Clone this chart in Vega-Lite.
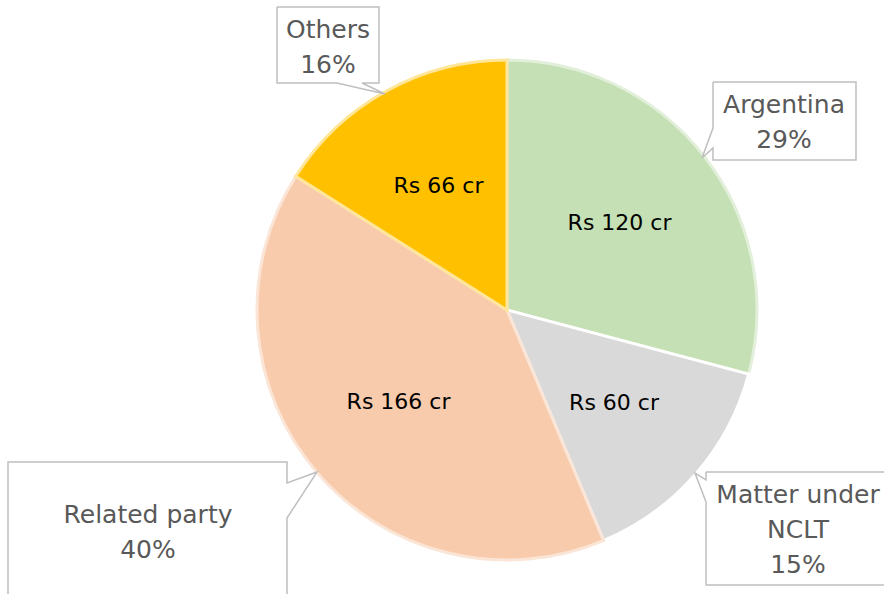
{
  "$schema": "https://vega.github.io/schema/vega-lite/v6.json",
  "width": 884,
  "height": 594,
  "autosize": {"type": "none"},
  "padding": 0,
  "background": "white",
  "config": {"view": {"stroke": null}},
  "datasets": {
    "slices": [
      {"idx": 1, "category": "Argentina", "amount": 120, "label": "Rs 120 cr"},
      {"idx": 2, "category": "Matter under NCLT", "amount": 60, "label": "Rs 60 cr"},
      {"idx": 3, "category": "Related party", "amount": 166, "label": "Rs 166 cr"},
      {"idx": 4, "category": "Others", "amount": 66, "label": "Rs 66 cr"}
    ],
    "callouts": [
      {"callout": "Others", "text": "Others\n16%", "tx": 328, "ty": 30},
      {"callout": "Argentina", "text": "Argentina\n29%", "tx": 784, "ty": 105},
      {"callout": "Matter under NCLT", "text": "Matter under\nNCLT\n15%", "tx": 798, "ty": 495},
      {"callout": "Related party", "text": "Related party\n40%", "tx": 148, "ty": 515}
    ],
    "outlines": [
      {"callout": "Others", "seq": 1, "px": 277, "py": 7},
      {"callout": "Others", "seq": 2, "px": 379, "py": 7},
      {"callout": "Others", "seq": 3, "px": 379, "py": 83},
      {"callout": "Others", "seq": 4, "px": 362, "py": 83},
      {"callout": "Others", "seq": 5, "px": 385, "py": 94},
      {"callout": "Others", "seq": 6, "px": 337, "py": 83},
      {"callout": "Others", "seq": 7, "px": 277, "py": 83},
      {"callout": "Others", "seq": 8, "px": 277, "py": 7},
      {"callout": "Argentina", "seq": 1, "px": 713, "py": 82},
      {"callout": "Argentina", "seq": 2, "px": 856, "py": 82},
      {"callout": "Argentina", "seq": 3, "px": 856, "py": 160},
      {"callout": "Argentina", "seq": 4, "px": 713, "py": 160},
      {"callout": "Argentina", "seq": 5, "px": 713, "py": 148},
      {"callout": "Argentina", "seq": 6, "px": 702, "py": 158},
      {"callout": "Argentina", "seq": 7, "px": 713, "py": 128},
      {"callout": "Argentina", "seq": 8, "px": 713, "py": 82},
      {"callout": "Matter under NCLT", "seq": 1, "px": 706, "py": 472},
      {"callout": "Matter under NCLT", "seq": 2, "px": 890, "py": 472},
      {"callout": "Matter under NCLT", "seq": 3, "px": 890, "py": 585},
      {"callout": "Matter under NCLT", "seq": 4, "px": 706, "py": 585},
      {"callout": "Matter under NCLT", "seq": 5, "px": 706, "py": 502},
      {"callout": "Matter under NCLT", "seq": 6, "px": 695, "py": 473},
      {"callout": "Matter under NCLT", "seq": 7, "px": 706, "py": 480},
      {"callout": "Matter under NCLT", "seq": 8, "px": 706, "py": 472},
      {"callout": "Related party", "seq": 1, "px": 8, "py": 600},
      {"callout": "Related party", "seq": 2, "px": 8, "py": 462},
      {"callout": "Related party", "seq": 3, "px": 287, "py": 462},
      {"callout": "Related party", "seq": 4, "px": 287, "py": 483},
      {"callout": "Related party", "seq": 5, "px": 317, "py": 472},
      {"callout": "Related party", "seq": 6, "px": 287, "py": 518},
      {"callout": "Related party", "seq": 7, "px": 287, "py": 600}
    ]
  },
  "layer": [
    {
      "data": {"name": "slices"},
      "mark": {"type": "arc", "outerRadius": 250, "strokeWidth": 3},
      "encoding": {
        "x": {"datum": 507, "type": "quantitative", "scale": {"domain": [0, 884], "nice": false, "zero": false}, "axis": null},
        "y": {"datum": 310, "type": "quantitative", "scale": {"domain": [0, 594], "nice": false, "zero": false, "reverse": true}, "axis": null},
        "theta": {"field": "amount", "type": "quantitative", "stack": true},
        "order": {"field": "idx", "type": "quantitative"},
        "color": {
          "field": "category", "type": "nominal", "legend": null,
          "scale": {"domain": ["Argentina", "Matter under NCLT", "Related party", "Others"], "range": ["#C5E0B4", "#D9D9D9", "#F8CBAD", "#FFC000"]}
        },
        "stroke": {
          "field": "category", "type": "nominal", "legend": null,
          "scale": {"domain": ["Argentina", "Matter under NCLT", "Related party", "Others"], "range": ["#E2EFDA", "#FFFFFF", "#FBE5D6", "#FFE699"]}
        }
      }
    },
    {
      "data": {"name": "slices"},
      "mark": {"type": "text", "radius": 142, "fontSize": 22, "font": "DejaVu Sans", "color": "#000000"},
      "encoding": {
        "x": {"datum": 507, "type": "quantitative", "scale": {"domain": [0, 884], "nice": false, "zero": false}, "axis": null},
        "y": {"datum": 310, "type": "quantitative", "scale": {"domain": [0, 594], "nice": false, "zero": false, "reverse": true}, "axis": null},
        "theta": {"field": "amount", "type": "quantitative", "stack": true},
        "order": {"field": "idx", "type": "quantitative"},
        "text": {"field": "label"}
      }
    },
    {
      "data": {"name": "outlines"},
      "mark": {"type": "line", "stroke": "#BFBFBF", "strokeWidth": 1.5, "clip": false},
      "encoding": {
        "x": {"field": "px", "type": "quantitative", "scale": {"domain": [0, 884], "nice": false, "zero": false}, "axis": null},
        "y": {"field": "py", "type": "quantitative", "scale": {"domain": [0, 594], "nice": false, "zero": false, "reverse": true}, "axis": null},
        "detail": {"field": "callout"},
        "order": {"field": "seq", "type": "quantitative"}
      }
    },
    {
      "data": {"name": "callouts"},
      "mark": {"type": "text", "lineBreak": "\n", "fontSize": 25, "font": "DejaVu Sans", "color": "#595959", "lineHeight": 35, "align": "center", "baseline": "middle"},
      "encoding": {
        "x": {"field": "tx", "type": "quantitative", "scale": {"domain": [0, 884], "nice": false, "zero": false}, "axis": null},
        "y": {"field": "ty", "type": "quantitative", "scale": {"domain": [0, 594], "nice": false, "zero": false, "reverse": true}, "axis": null},
        "text": {"field": "text"}
      }
    }
  ]
}
